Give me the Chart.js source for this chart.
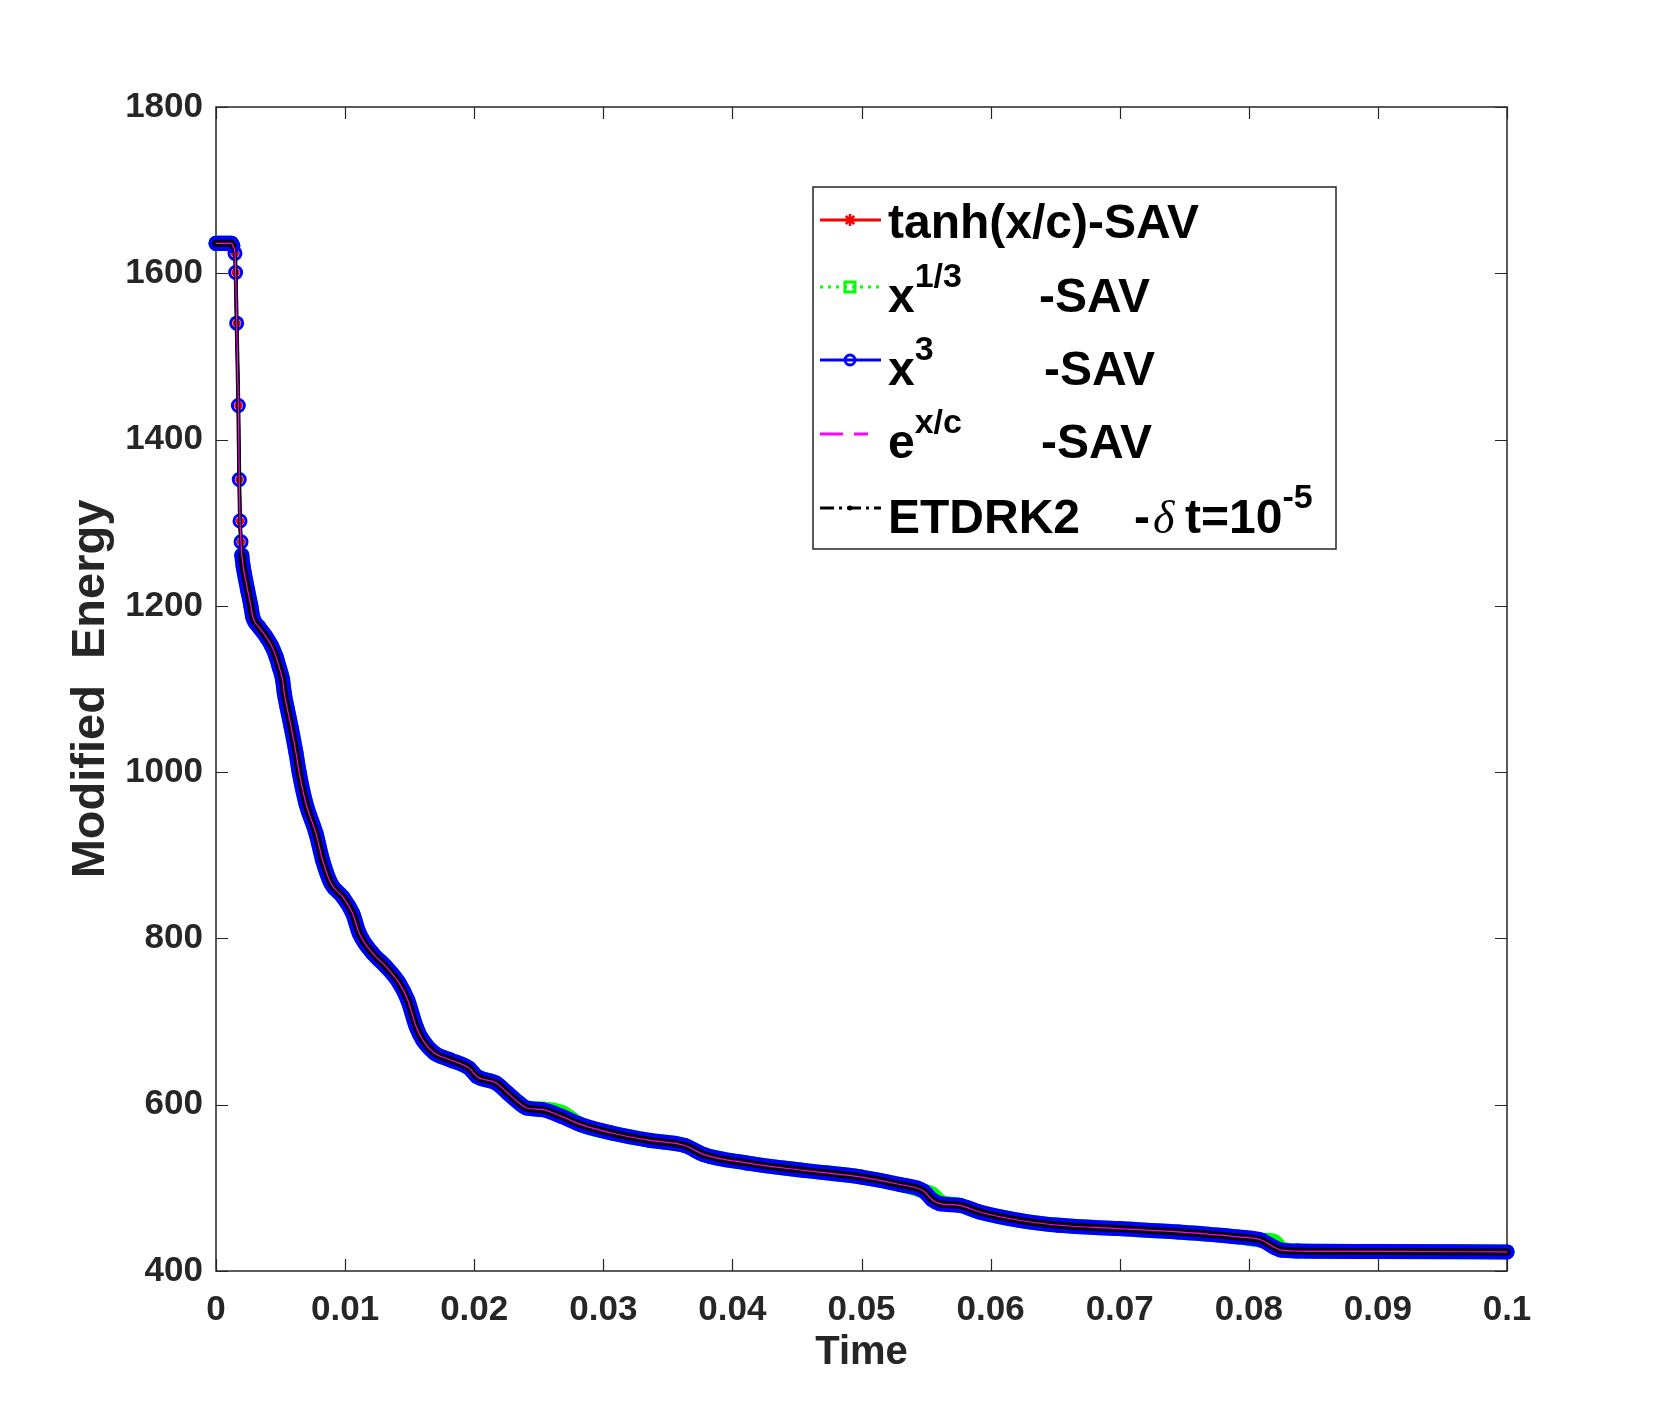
<!DOCTYPE html>
<html>
<head>
<meta charset="utf-8">
<title>Modified Energy</title>
<script src="https://cdn.jsdelivr.net/npm/chart.js@4.4.1/dist/chart.umd.min.js"></script>
<style>
  html, body { margin: 0; padding: 0; background: #fff; }
  #wrap { width: 1664px; height: 1428px; }
</style>
</head>
<body>
<div id="wrap"><canvas id="energyChart"></canvas></div>
<script>
/* ========= DATA ========= */

const timeValues = [
  0, 0.0002, 0.0004, 0.0006, 0.0008, 0.001, 0.0012, 0.0013,
  0.00147, 0.00152, 0.0016, 0.00173, 0.0018, 0.00186, 0.00194, 0.002,
  0.0021, 0.0022, 0.00245, 0.0027, 0.00284, 0.0033, 0.00387, 0.0043,
  0.00465, 0.0049, 0.00516, 0.00529, 0.0055, 0.00581, 0.0062, 0.00645,
  0.00697, 0.00775, 0.00826, 0.00891, 0.00981, 0.01059, 0.0111, 0.01214,
  0.01317, 0.0142, 0.01485, 0.0155, 0.016, 0.01693, 0.01813, 0.01961,
  0.0202, 0.0217, 0.0226, 0.02349, 0.02408, 0.02528, 0.02676, 0.02826,
  0.03064, 0.03362, 0.0363, 0.03779, 0.04107, 0.04553, 0.05, 0.05298,
  0.05483, 0.05545, 0.05606, 0.0576, 0.05914, 0.06222, 0.0653, 0.06992,
  0.07453, 0.07915, 0.081, 0.08192, 0.08254, 0.08377, 0.09, 0.1
];

// tanh, x^3, e^{x/c} and ETDRK2 lie on top of each other
const energyValues = [
  1636, 1636, 1636, 1636, 1636, 1636, 1636, 1633,
  1624, 1601, 1540, 1441, 1352, 1302, 1277, 1261,
  1248, 1239, 1219, 1200, 1187, 1175, 1163, 1152,
  1139, 1126, 1111, 1095, 1078, 1055, 1023, 999,
  962, 926, 894, 866, 850, 830, 806, 782,
  766, 746, 726, 694, 678, 662, 654, 644,
  634, 626, 614, 602, 596, 594, 586, 576,
  566, 557, 551, 540, 530, 521, 513, 504,
  496, 486, 481, 479, 471, 461, 455, 451,
  447, 441, 437, 429, 425, 424, 423.5, 423
];

// x^{1/3}-SAV drops a little later at the kinks
const energyX13 = [
  1636, 1636, 1636, 1636, 1636, 1636, 1636, 1633,
  1624, 1601, 1540, 1441, 1352, 1302, 1277, 1261,
  1248, 1239, 1219, 1200, 1187, 1175, 1163, 1152,
  1139, 1126, 1111, 1095, 1078, 1055, 1023, 999,
  962, 926, 894, 866, 850, 830, 806, 782,
  766, 746, 726, 694, 678, 662, 654, 644,
  634, 626, 614, 602, 596, 595, 591, 576,
  566, 557, 551, 540, 530, 521, 513, 504,
  496, 493, 484, 479, 471, 461, 455, 451,
  447, 441, 437, 436, 427, 424, 423.5, 423
];

const xTicks = [0, 0.01, 0.02, 0.03, 0.04, 0.05, 0.06, 0.07, 0.08, 0.09, 0.1];
const yTicks = [400, 600, 800, 1000, 1200, 1400, 1600, 1800];

// legend texts, split in runs for superscripts
const legendTexts = [
  [{ t: 'tanh(x/c)-SAV' }],
  [{ t: 'x' }, { t: '1/3', sup: true }, { t: '-SAV', at: 1039 }],
  [{ t: 'x' }, { t: '3', sup: true }, { t: '-SAV', at: 1044 }],
  [{ t: 'e' }, { t: 'x/c', sup: true }, { t: '-SAV', at: 1041 }],
  [{ t: 'ETDRK2' }, { t: '-', at: 1134 }, { t: '\u03B4', it: true, at: 1153 },
   { t: 't=10', at: 1185 }, { t: '-5', sup: true }]
];


/* ========= STYLE ========= */

const AXIS_COLOR = '#262626';
const FONT = '"Liberation Sans", Arial, Helvetica, sans-serif';
const TICK_LEN = 12;

const legendBox = { left: 813, top: 187, right: 1336, bottom: 549 };
const legendBaselines = [238, 312, 385, 458, 533];
const legendSampleY = [220, 287, 360, 434, 508];

const legendSamples = [
  { color: '#ff0000', dash: [], x2: 881, marker: 'star' },
  { color: '#00ff00', dash: [3, 5], x2: 881, marker: 'square' },
  { color: '#0000ff', dash: [], x2: 881, marker: 'circle' },
  { color: '#ff00ff', dash: [23, 11], x2: 868, marker: null },
  { color: '#000000', dash: [14, 5, 3, 5], x2: 881, marker: 'dot' }
];

// the first drop has sparse samples, markers show one by one there
function steepDrop(ctx) {
  return ctx.p0.parsed.y > 1265 && ctx.p0.parsed.y - ctx.p1.parsed.y > 5;
}

function points(values) {
  return timeValues.map((t, i) => ({ x: t, y: values[i] }));
}


/* ========= PLUGINS ========= */

const matlabAxes = {
  id: 'matlabAxes',
  beforeDatasetsDraw(chart) {
    const { ctx, chartArea: a, scales: { x, y } } = chart;
    ctx.save();
    ctx.strokeStyle = AXIS_COLOR;
    ctx.lineWidth = 1.5;
    ctx.strokeRect(a.left, a.top, a.right - a.left, a.bottom - a.top);
    ctx.beginPath();
    xTicks.forEach(v => {
      const px = Math.round(x.getPixelForValue(v)) + 0.5;
      ctx.moveTo(px, a.bottom); ctx.lineTo(px, a.bottom - TICK_LEN);
      ctx.moveTo(px, a.top); ctx.lineTo(px, a.top + TICK_LEN);
    });
    yTicks.forEach(v => {
      const py = Math.round(y.getPixelForValue(v)) + 0.5;
      ctx.moveTo(a.left, py); ctx.lineTo(a.left + TICK_LEN, py);
      ctx.moveTo(a.right, py); ctx.lineTo(a.right - TICK_LEN, py);
    });
    ctx.lineWidth = 1.2;
    ctx.stroke();
    ctx.restore();
  }
};

function drawMarker(ctx, kind, x, y, color) {
  ctx.save();
  ctx.setLineDash([]);
  ctx.strokeStyle = color;
  ctx.fillStyle = color;
  ctx.lineWidth = 2.5;
  ctx.beginPath();
  if (kind === 'star') {
    const r = 6;
    ctx.moveTo(x - r, y); ctx.lineTo(x + r, y);
    ctx.moveTo(x, y - r); ctx.lineTo(x, y + r);
    ctx.moveTo(x - r * 0.7, y - r * 0.7); ctx.lineTo(x + r * 0.7, y + r * 0.7);
    ctx.moveTo(x - r * 0.7, y + r * 0.7); ctx.lineTo(x + r * 0.7, y - r * 0.7);
    ctx.stroke();
  } else if (kind === 'square') {
    ctx.lineWidth = 3;
    ctx.strokeRect(x - 5, y - 5, 10, 10);
  } else if (kind === 'circle') {
    ctx.lineWidth = 3;
    ctx.arc(x, y, 5, 0, Math.PI * 2);
    ctx.stroke();
  } else if (kind === 'dot') {
    ctx.arc(x, y, 2.5, 0, Math.PI * 2);
    ctx.fill();
  }
  ctx.restore();
}

const matlabLegend = {
  id: 'matlabLegend',
  afterDraw(chart) {
    const ctx = chart.ctx;
    const b = legendBox;
    ctx.save();
    ctx.fillStyle = '#ffffff';
    ctx.fillRect(b.left, b.top, b.right - b.left, b.bottom - b.top);
    ctx.strokeStyle = AXIS_COLOR;
    ctx.lineWidth = 1.5;
    ctx.strokeRect(b.left, b.top, b.right - b.left, b.bottom - b.top);

    legendSamples.forEach((s, i) => {
      const sy = legendSampleY[i];
      ctx.save();
      ctx.strokeStyle = s.color;
      ctx.lineWidth = 3;
      ctx.setLineDash(s.dash);
      ctx.beginPath();
      ctx.moveTo(820, sy);
      ctx.lineTo(s.x2, sy);
      ctx.stroke();
      ctx.restore();
      if (s.marker) drawMarker(ctx, s.marker, 850, sy, s.color);
    });

    ctx.fillStyle = '#000000';
    ctx.textBaseline = 'alphabetic';
    legendTexts.forEach((runs, i) => {
      let x = 888;
      const base = legendBaselines[i];
      runs.forEach(r => {
        if (r.at) x = r.at;
        if (r.sup) ctx.font = 'bold 34px ' + FONT;
        else if (r.it) ctx.font = 'italic 46px "Liberation Serif", serif';
        else ctx.font = 'bold 48px ' + FONT;
        ctx.fillText(r.t, x, r.sup ? base - 25 : base);
        x += ctx.measureText(r.t).width;
      });
    });
    ctx.restore();
  }
};


/* ========= CHART ========= */

function loadChart() {
  const canvas = document.getElementById('energyChart');

  new Chart(canvas, {
    type: 'line',
    data: {
      datasets: [
        {
          label: 'tanh(x/c)-SAV',
          data: points(energyValues),
          borderColor: '#ff0000',
          borderWidth: 3,
          pointStyle: 'star',
          pointRadius: 4,
          pointBorderColor: '#ff0000',
          order: 5
        },
        {
          label: 'x^{1/3}-SAV',
          data: points(energyX13),
          borderColor: '#00ff00',
          borderWidth: 15,
          segment: { borderWidth: ctx => steepDrop(ctx) ? 3 : 15 },
          pointRadius: 0,
          order: 4
        },
        {
          label: 'x^3-SAV',
          data: points(energyValues),
          borderColor: '#0000ff',
          borderWidth: 15,
          segment: { borderWidth: ctx => steepDrop(ctx) ? 3 : 15 },
          pointStyle: 'circle',
          pointRadius: 6,
          pointBorderWidth: 3,
          pointBorderColor: '#0000ff',
          pointBackgroundColor: 'rgba(0,0,0,0)',
          order: 3
        },
        {
          label: 'e^{x/c}-SAV',
          data: points(energyValues),
          borderColor: '#ff00ff',
          borderWidth: 1.2,
          pointRadius: 0,
          order: 1
        },
        {
          label: 'ETDRK2 -\u03B4 t=10^{-5}',
          data: points(energyValues),
          borderColor: '#000000',
          borderWidth: 7,
          segment: { borderWidth: ctx => steepDrop(ctx) ? 4 : 7 },
          pointRadius: 0,
          order: 2
        }
      ]
    },
    options: {
      responsive: true,
      maintainAspectRatio: false,
      animation: false,
      events: [],
      layout: { padding: { left: 0, top: 107, right: 157, bottom: 0 } },
      elements: {
        line: {
          cubicInterpolationMode: 'monotone',
          borderCapStyle: 'round',
          borderJoinStyle: 'round',
          fill: false
        },
        point: { hoverRadius: 0 }
      },
      datasets: { line: { clip: false } },
      plugins: {
        legend: { display: false },
        tooltip: { enabled: false }
      },
      scales: {
        x: {
          type: 'linear',
          min: 0,
          max: 0.1,
          afterBuildTicks: s => { s.ticks = xTicks.map(v => ({ value: v })); },
          afterFit: s => { s.height = 157; },
          grid: { display: false, drawTicks: false, tickLength: 0 },
          border: { display: false },
          ticks: {
            color: AXIS_COLOR,
            font: { family: FONT, size: 35, weight: 'bold' },
            padding: 18,
            maxRotation: 0,
            autoSkip: false,
            callback: v => String(v)
          },
          title: {
            display: true,
            text: 'Time',
            color: AXIS_COLOR,
            font: { family: FONT, size: 40, weight: 'bold' },
            padding: { top: 0, bottom: 51 }
          }
        },
        y: {
          type: 'linear',
          min: 400,
          max: 1800,
          afterBuildTicks: s => { s.ticks = yTicks.map(v => ({ value: v })); },
          afterFit: s => { s.width = 216; },
          grid: { display: false, drawTicks: false, tickLength: 0 },
          border: { display: false },
          ticks: {
            color: AXIS_COLOR,
            font: { family: FONT, size: 35, weight: 'bold' },
            padding: 13,
            autoSkip: false,
            callback: v => String(v)
          },
          title: {
            display: true,
            text: 'Modified  Energy',
            color: AXIS_COLOR,
            font: { family: FONT, size: 47, weight: 'bold' },
            padding: { top: 63, bottom: 0 }
          }
        }
      }
    },
    plugins: [matlabAxes, matlabLegend]
  });
}


/* ========= INIT ========= */

document.addEventListener('DOMContentLoaded', loadChart);
</script>
</body>
</html>
